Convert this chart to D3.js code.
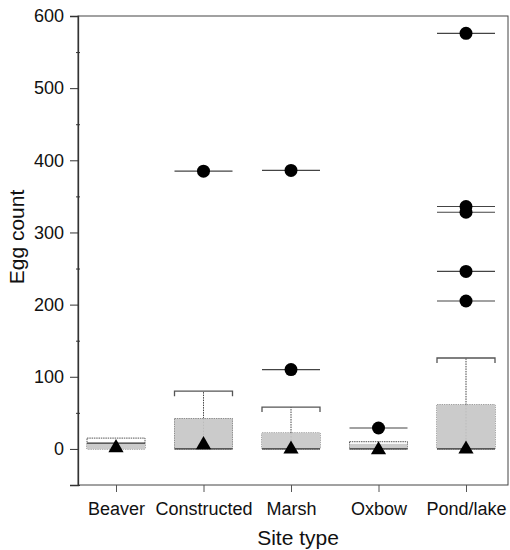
<!DOCTYPE html>
<html>
<head>
<meta charset="utf-8">
<script src="https://cdn.jsdelivr.net/npm/d3@7"></script>
<style>
  body { margin: 0; background: #fff; }
  svg { font-family: Arial, "Liberation Sans", sans-serif; }
</style>
</head>
<body>
<svg id="chart" width="510" height="550"></svg>
<script>
// values
var sites = ["Beaver", "Constructed", "Marsh", "Oxbow", "Pond/lake"];
var q1 = [0, 0, 0, 0, 0];
var median = [8, 0, 0, 0, 0];
var q3 = [15, 42, 22, 10, 61];
var shadedTop = [8, 42, 22, 7, 61];
var whiskerTop = [15, 80, 58, 10, 126];
var means = [3, 7, 1, 0, 1];
var outliers = [[], [385], [110, 386], [29], [205, 246, 328, 336, 576]];
var yTicks = [0, 100, 200, 300, 400, 500, 600];
var yMinor = [-50, 50, 150, 250, 350, 450, 550];

var svg = d3.select("#chart");
var plotLeft = 78, plotRight = 508, plotTop = 16, plotBottom = 485;

var x = d3.scalePoint().domain(sites).range([116, 466]);
var y = d3.scaleLinear().domain([-50, 600]).range([plotBottom, plotTop]);
var half = 29;

// frame (top/right lighter, like the scan)
svg.append("rect")
    .attr("x", plotLeft).attr("y", plotTop)
    .attr("width", plotRight - plotLeft).attr("height", plotBottom - plotTop)
    .attr("fill", "none").attr("stroke", "#444").attr("stroke-width", 1);

// axes
var yAxis = svg.append("g")
    .attr("transform", "translate(" + plotLeft + ",0)")
    .call(d3.axisLeft(y).tickValues(yTicks).tickSize(8).tickPadding(6));
yAxis.select(".domain").attr("stroke", "#333").attr("stroke-width", 1.3);
yAxis.selectAll(".tick line").attr("stroke", "#333");
yAxis.selectAll("text").attr("font-size", "18px").attr("fill", "#111")
    .style("font-family", "Arial, 'Liberation Sans', sans-serif");

svg.append("g")
    .attr("transform", "translate(" + (plotLeft + 2) + ",0)")
    .call(d3.axisLeft(y).tickValues(yMinor).tickSize(4).tickFormat(""))
    .call(function (g) { g.select(".domain").remove(); })
    .selectAll("line").attr("stroke", "#333");

var xAxis = svg.append("g")
    .attr("transform", "translate(0," + plotBottom + ")")
    .call(d3.axisBottom(x).tickSize(7).tickPadding(10).tickSizeOuter(0));
xAxis.select(".domain").remove();
xAxis.selectAll(".tick line").attr("stroke", "#555");
xAxis.selectAll("text").attr("font-size", "18px").attr("fill", "#111")
    .style("font-family", "Arial, 'Liberation Sans', sans-serif");

// axis titles
svg.append("text")
    .attr("x", 298).attr("y", 545)
    .attr("text-anchor", "middle").attr("font-size", "21px").attr("fill", "#111")
    .text("Site type");

svg.append("text")
    .attr("transform", "translate(24,237) rotate(-90)")
    .attr("text-anchor", "middle").attr("font-size", "21px").attr("fill", "#111")
    .text("Egg count");

// boxes
var boxes = svg.append("g").selectAll("g")
    .data(sites).enter().append("g");

// whisker line and cap
boxes.append("line")
    .attr("x1", function (d) { return x(d); })
    .attr("x2", function (d) { return x(d); })
    .attr("y1", function (d, i) { return y(q3[i]); })
    .attr("y2", function (d, i) { return y(whiskerTop[i]); })
    .attr("stroke", "#444").attr("stroke-dasharray", "1.5,1");

boxes.append("path")
    .attr("d", function (d, i) {
        var yy = y(whiskerTop[i]);
        return "M" + (x(d) - half) + "," + (yy + 5) + "V" + yy +
               "H" + (x(d) + half) + "V" + (yy + 5);
    })
    .attr("fill", "none").attr("stroke", "#555").attr("stroke-width", 1.3)
    .attr("display", function (d, i) { return whiskerTop[i] > q3[i] ? null : "none"; });

// box body
boxes.append("rect")
    .attr("x", function (d) { return x(d) - half; })
    .attr("width", half * 2)
    .attr("y", function (d, i) { return y(q3[i]); })
    .attr("height", function (d, i) { return y(q1[i]) - y(q3[i]); })
    .attr("fill", "#fff").attr("stroke", "#555").attr("stroke-width", 1)
    .attr("stroke-dasharray", "1.5,0.8");

boxes.append("rect")
    .attr("x", function (d) { return x(d) - half; })
    .attr("width", half * 2)
    .attr("y", function (d, i) { return y(shadedTop[i]); })
    .attr("height", function (d, i) { return y(q1[i]) - y(shadedTop[i]); })
    .attr("fill", "#cbcbcb");

boxes.append("line")
    .attr("x1", function (d) { return x(d) - half; })
    .attr("x2", function (d) { return x(d) + half; })
    .attr("y1", function (d, i) { return y(median[i]); })
    .attr("y2", function (d, i) { return y(median[i]); })
    .attr("stroke", "#333").attr("stroke-width", 1.3);

// dotted centre line running through the shading
boxes.append("line")
    .attr("x1", function (d) { return x(d); })
    .attr("x2", function (d) { return x(d); })
    .attr("y1", function (d, i) { return y(q3[i]); })
    .attr("y2", function (d, i) { return y(q1[i]); })
    .attr("stroke", "#bbb").attr("stroke-dasharray", "1.5,1.5")
    .attr("display", function (d, i) { return whiskerTop[i] > q3[i] ? null : "none"; });

// outliers: line + dot
var pts = [];
sites.forEach(function (s, i) {
    outliers[i].forEach(function (v) { pts.push({ site: s, value: v }); });
});

svg.append("g").selectAll("line")
    .data(pts).enter().append("line")
    .attr("x1", function (d) { return x(d.site) - half; })
    .attr("x2", function (d) { return x(d.site) + half; })
    .attr("y1", function (d) { return y(d.value); })
    .attr("y2", function (d) { return y(d.value); })
    .attr("stroke", "#444").attr("stroke-width", 1.2);

svg.append("g").selectAll("circle")
    .data(pts).enter().append("circle")
    .attr("cx", function (d) { return x(d.site); })
    .attr("cy", function (d) { return y(d.value); })
    .attr("r", 6.5)
    .attr("fill", "#000");

// means
svg.append("g").selectAll("path")
    .data(sites).enter().append("path")
    .attr("transform", function (d, i) { return "translate(" + x(d) + "," + (y(means[i]) + 1) + ")"; })
    .attr("d", d3.symbol().type(d3.symbolTriangle).size(100))
    .attr("fill", "#000");
</script>
</body>
</html>
